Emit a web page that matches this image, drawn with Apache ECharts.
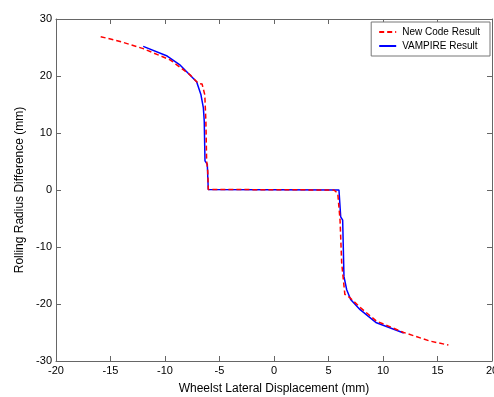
<!DOCTYPE html>
<html>
<head>
<meta charset="utf-8">
<script src="https://cdn.jsdelivr.net/npm/echarts@6/dist/echarts.min.js"></script>
<style>
html,body{margin:0;padding:0;background:#fff;}
#c{width:494px;height:397px;}
</style>
</head>
<body>
<div id="c"></div>
<script>
const xTicks = [-20, -15, -10, -5, 0, 5, 10, 15, 20];
const yTicks = [-30, -20, -10, 0, 10, 20, 30];

const newCodeX = [-15.9, -14.0, -12.0, -9.5, -7.7, -6.95, -6.6, -6.35, -6.25, -6.18, -6.08, -6.03, 5.5, 5.85, 6.06, 6.21, 6.36, 6.5, 6.97, 7.9, 9.4, 11.9, 14.3, 16.0];
const newCodeY = [26.9, 26.0, 24.8, 22.8, 20.2, 18.7, 18.6, 16.7, 12.1, 5.1, 3.4, 0.1, 0.0, -0.6, -5.3, -12.8, -15.7, -18.3, -18.9, -20.6, -23.0, -25.0, -26.5, -27.2];

const vampireX = [-12.0, -9.8, -8.6, -7.1, -6.7, -6.48, -6.4, -6.33, -6.12, -6.03, 5.96, 6.12, 6.3, 6.42, 6.67, 7.03, 7.9, 9.4, 11.9];
const vampireY = [25.2, 23.5, 21.9, 19.0, 16.7, 14.4, 12.1, 5.1, 4.5, 0.1, 0.0, -4.7, -5.3, -15.2, -17.5, -19.2, -21.0, -23.3, -25.1];

const seriesNames = ['New Code Result', 'VAMPIRE Result'];

const pairs = (xs, ys) => xs.map((x, i) => [x, ys[i]]);

const chart = echarts.init(document.getElementById('c'), null, {renderer: 'canvas'});
const axisCol = '#666';
const font = 'Liberation Sans, Arial, sans-serif';

const baseAxis = {
  axisLine: {show: true, onZero: false, lineStyle: {color: axisCol, width: 1}},
  axisTick: {show: true, inside: true, length: 5, lineStyle: {color: axisCol}},
  splitLine: {show: false}
};

chart.setOption({
  animation: false,
  backgroundColor: '#fff',
  grid: {left: 56, right: 2, top: 19, bottom: 36, containLabel: false, outerBoundsMode: 'none'},
  legend: {
    orient: 'vertical',
    right: 4,
    top: 22,
    data: seriesNames,
    itemWidth: 17,
    itemHeight: 8,
    itemGap: 4,
    padding: [5, 10, 5, 7],
    borderColor: '#777',
    borderWidth: 1,
    borderRadius: 0,
    backgroundColor: '#fff',
    itemStyle: {opacity: 0},
    textStyle: {fontFamily: font, fontSize: 10, lineHeight: 10, color: '#000', padding: [0, 0, 0, 1]}
  },
  xAxis: [
    Object.assign({}, baseAxis, {
      type: 'value', min: -20, max: 20, interval: 5, position: 'bottom',
      name: 'Wheelst Lateral Displacement (mm)', nameLocation: 'middle', nameGap: 22,
      nameTextStyle: {fontFamily: font, fontSize: 12, color: '#000'},
      axisLabel: {fontFamily: font, fontSize: 11, color: '#000', margin: 4,
        customValues: xTicks},
      axisTick: {show: true, inside: true, length: 5, lineStyle: {color: axisCol}, customValues: xTicks}
    }),
    Object.assign({}, baseAxis, {
      type: 'value', min: -20, max: 20, interval: 5, position: 'top',
      axisLabel: {show: false}
    })
  ],
  yAxis: [
    Object.assign({}, baseAxis, {
      type: 'value', min: -30, max: 30, interval: 10, position: 'left',
      name: 'Rolling Radius Difference (mm)', nameLocation: 'middle', nameGap: 29,
      nameTextStyle: {fontFamily: font, fontSize: 12, color: '#000'},
      axisLabel: {fontFamily: font, fontSize: 11, color: '#000', margin: 4,
        customValues: yTicks},
      axisTick: {show: true, inside: true, length: 5, lineStyle: {color: axisCol}, customValues: yTicks}
    }),
    Object.assign({}, baseAxis, {
      type: 'value', min: -30, max: 30, interval: 10, position: 'right',
      axisLabel: {show: false}
    })
  ],
  series: [
    {
      name: seriesNames[0], type: 'line', symbol: 'none', z: 3,
      data: pairs(newCodeX, newCodeY),
      lineStyle: {color: '#ff0000', width: 1.5, type: [5, 3]},
      itemStyle: {color: '#ff0000'}
    },
    {
      name: seriesNames[1], type: 'line', symbol: 'none', z: 2,
      data: pairs(vampireX, vampireY),
      lineStyle: {color: '#0000ff', width: 1.5, type: 'solid'},
      itemStyle: {color: '#0000ff'}
    }
  ]
});
</script>
</body>
</html>
